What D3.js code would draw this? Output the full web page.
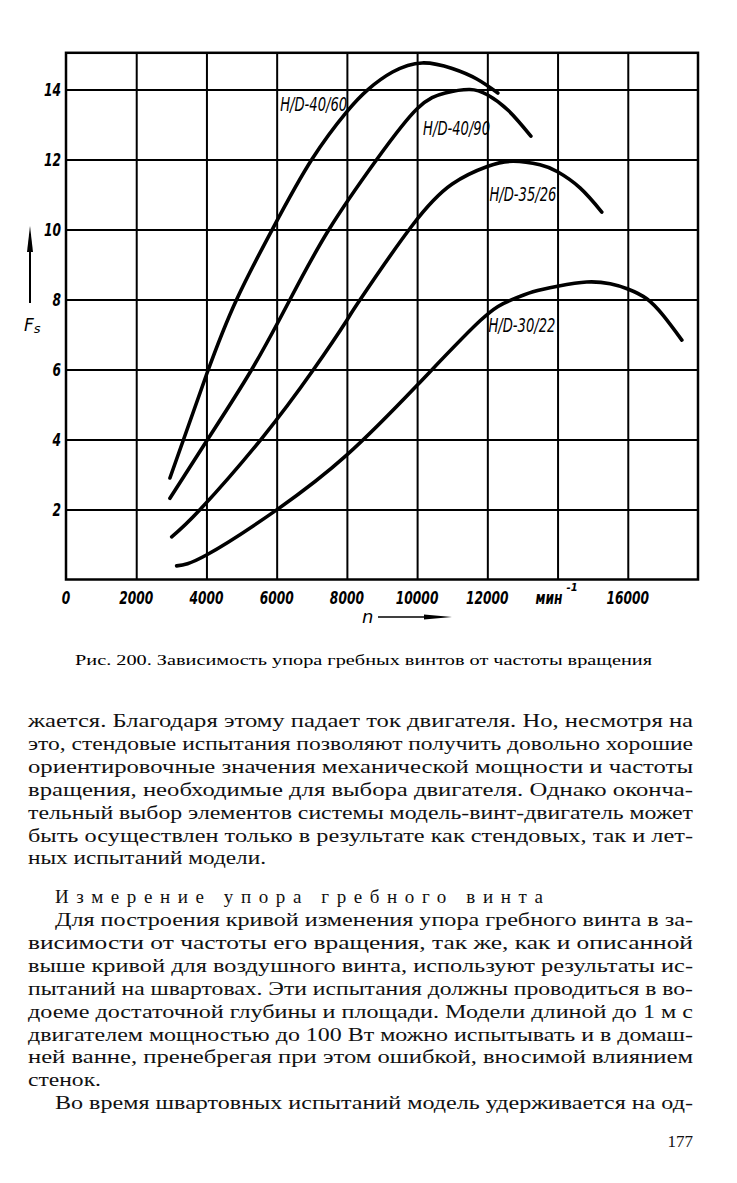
<!DOCTYPE html>
<html><head><meta charset="utf-8">
<script src="https://cdn.jsdelivr.net/npm/d3@7"></script>
<style>
html,body{margin:0;padding:0;background:#fff;}
svg{display:block;}
</style></head>
<body>
<script>
// ---- data ----
const xTickValues = [0,2000,4000,6000,8000,10000,12000,14000,16000];
const xTickLabels = ["0","2000","4000","6000","8000","10000","12000","мин","16000"];
const yTickValues = [2,4,6,8,10,12,14];
const yTickLabels = ["2","4","6","8","10","12","14"];
const seriesNames = ["H/D-40/60","H/D-40/90","H/D-35/26","H/D-30/22"];
const n_40_60 = [2960,4000,4860,5900,7000,8000,8600,9300,10140,11000,11700,12300];
const F_40_60 = [2.9,5.85,8.0,10.05,12.0,13.37,14.0,14.5,14.76,14.6,14.3,13.9];
const n_40_90 = [2960,4000,5290,6380,7490,8850,10000,10800,11500,12000,12600,13240];
const F_40_90 = [2.32,3.95,6.0,8.0,10.0,12.0,13.45,13.9,14.0,13.85,13.4,12.67];
const n_35_26 = [3010,3820,5550,7050,8000,8380,9850,11000,12000,12740,13500,14000,14640,15260];
const F_35_26 = [1.22,2.0,4.0,6.0,7.41,8.0,10.1,11.3,11.8,11.95,11.85,11.65,11.19,10.5];
const n_30_22 = [3150,4000,6000,8000,10000,11800,12640,13300,14000,14830,15500,16000,16540,17020,17540];
const F_30_22 = [0.39,0.7,1.99,3.56,5.55,7.4,7.97,8.22,8.38,8.5,8.45,8.3,8.02,7.53,6.84];
const caption = "Рис. 200. Зависимость упора гребных винтов от частоты вращения";
const para1 = [
 "жается. Благодаря этому падает ток двигателя. Но, несмотря на",
 "это, стендовые испытания позволяют получить довольно хорошие",
 "ориентировочные значения механической  мощности и частоты",
 "вращения, необходимые для выбора двигателя. Однако оконча-",
 "тельный выбор элементов системы модель-винт-двигатель может",
 "быть осуществлен только в результате как стендовых, так и лет-",
 "ных испытаний модели."];
const heading = "Измерение упора гребного винта";
const para2 = [
 "Для построения кривой изменения упора гребного винта в за-",
 "висимости от частоты его вращения, так же, как и описанной",
 "выше кривой для воздушного винта, используют результаты ис-",
 "пытаний на швартовах. Эти испытания должны проводиться в во-",
 "доеме достаточной глубины и площади. Модели длиной до 1 м с",
 "двигателем мощностью до 100 Вт можно испытывать и в домаш-",
 "ней ванне, пренебрегая при этом ошибкой, вносимой влиянием",
 "стенок.",
 "Во время швартовных испытаний модель удерживается на од-"];
const pageNumber = "177";

// ---- layout ----
const W = 737, H = 1183;
const svg = d3.select("body").append("svg").attr("width", W).attr("height", H);
const x = d3.scaleLinear().domain([0,18000]).range([66,698]);
const y = d3.scaleLinear().domain([0,15.05]).range([579.5,52.8]);
const chartFont = "'DejaVu Sans', sans-serif";

// grid via axes
svg.append("g").attr("transform",`translate(0,${y(0)})`)
  .call(d3.axisBottom(x).tickValues(d3.range(2000,18000,2000)).tickSize(-(y(0)-y(15.05))).tickFormat(""))
  .call(g=>g.select(".domain").remove())
  .call(g=>g.selectAll("line").attr("stroke","#000").attr("stroke-width",2));
svg.append("g").attr("transform",`translate(${x(0)},0)`)
  .call(d3.axisLeft(y).tickValues(yTickValues).tickSize(-(x(18000)-x(0))).tickFormat(""))
  .call(g=>g.select(".domain").remove())
  .call(g=>g.selectAll("line").attr("stroke","#000").attr("stroke-width",2));
svg.append("rect").attr("x",x(0)).attr("y",y(15.05)).attr("width",x(18000)-x(0)).attr("height",y(0)-y(15.05))
  .attr("fill","none").attr("stroke","#000").attr("stroke-width",2.5);

// tick labels (scaled horizontally to mimic the narrow drafting font)
const narrow = 0.72;
svg.append("g").selectAll("text").data(xTickValues).join("text")
  .attr("transform",(d,i)=>`translate(${xTickLabels[i]==="мин"?x(d)+5:x(d)},604) scale(${narrow},1)`)
  .attr("text-anchor",(d,i)=>xTickLabels[i]==="мин"?"end":"middle")
  .attr("font-family",chartFont).attr("font-style","italic").attr("font-weight","bold").attr("font-size",17)
  .text((d,i)=>xTickLabels[i]);
svg.append("text").attr("x",x(14000)+9).attr("y",591)
  .attr("font-family",chartFont).attr("font-style","italic").attr("font-weight","bold").attr("font-size",10)
  .text("-1");
svg.append("g").selectAll("text").data(yTickValues).join("text")
  .attr("transform",d=>`translate(61,${y(d)+6.5}) scale(${narrow},1)`)
  .attr("text-anchor","end")
  .attr("font-family",chartFont).attr("font-style","italic").attr("font-weight","bold").attr("font-size",17)
  .text((d,i)=>yTickLabels[i]);

// axis titles
svg.append("line").attr("x1",30).attr("x2",30).attr("y1",234).attr("y2",303).attr("stroke","#000").attr("stroke-width",2);
svg.append("path").attr("d","M30,226 L33,252 L27,252 Z").attr("fill","#000");
svg.append("text").attr("x",24).attr("y",331)
  .attr("font-family",chartFont).attr("font-style","italic").attr("font-size",17).text("F")
  .append("tspan").attr("font-size",13).attr("dy",2).text("s");
svg.append("text").attr("x",362).attr("y",623)
  .attr("font-family",chartFont).attr("font-style","italic").attr("font-size",18).text("n");
svg.append("line").attr("x1",378).attr("x2",440).attr("y1",617).attr("y2",617).attr("stroke","#000").attr("stroke-width",1.5);
svg.append("path").attr("d","M452,617 L424,614.5 L424,619.5 Z").attr("fill","#000");

// curves
const series = [
  {name:seriesNames[0], n:n_40_60, F:F_40_60},
  {name:seriesNames[1], n:n_40_90, F:F_40_90},
  {name:seriesNames[2], n:n_35_26, F:F_35_26},
  {name:seriesNames[3], n:n_30_22, F:F_30_22}];
const line = d3.line().x(d=>x(d[0])).y(d=>y(d[1])).curve(d3.curveNatural);
svg.append("g").selectAll("path").data(series).join("path")
  .attr("d",s=>line(s.n.map((v,i)=>[v,s.F[i]])))
  .attr("fill","none").attr("stroke","#000").attr("stroke-width",3.6).attr("stroke-linecap","round");

// curve labels (anchored at data coordinates)
const labelPos = [[6100,13.4],[10170,12.7],[12060,10.82],[12030,7.08]];
svg.append("g").selectAll("text").data(series).join("text")
  .attr("x",(s,i)=>x(labelPos[i][0])).attr("y",(s,i)=>y(labelPos[i][1]))
  .attr("font-family",chartFont).attr("font-style","italic").attr("font-size",19)
  .attr("textLength",67).attr("lengthAdjust","spacingAndGlyphs")
  .text(s=>s.name);

// caption
svg.append("text").attr("x",75).attr("y",665)
  .attr("font-family","'Liberation Serif', serif").attr("font-size",14)
  .attr("textLength",577).attr("lengthAdjust","spacingAndGlyphs").text(caption);

// body text
const serif = "'Liberation Serif', serif";
function para(lines, startY, opts){
  svg.append("g").selectAll("text").data(lines).join("text")
    .attr("y",(d,i)=>startY+i*22.9)
    .attr("font-family",serif).attr("font-size",19).attr("fill","#111")
    .each(function(d,i){
      const ind = (opts.indentFirst&&i===0)||(opts.indentIdx&&opts.indentIdx.includes(i));
      const left = ind?55:28;
      const t = d3.select(this).attr("x",left);
      if(!opts.ragged.includes(i)){
        t.attr("textLength",693-left).attr("lengthAdjust","spacingAndGlyphs");
      } else if(opts.widths && opts.widths[i]){
        t.attr("textLength",opts.widths[i]).attr("lengthAdjust","spacingAndGlyphs");
      }
    })
    .text(d=>d);
}
para(para1, 727, {ragged:[6], widths:{6:238}});
svg.append("text").attr("x",55).attr("y",903)
  .attr("font-family",serif).attr("font-size",19).attr("fill","#111")
  .attr("textLength",488).attr("lengthAdjust","spacing").text(heading);
para(para2, 926, {indentFirst:true, indentIdx:[8], ragged:[7], widths:{7:73}});
svg.append("text").attr("x",693).attr("y",1147).attr("text-anchor","end")
  .attr("font-family",serif).attr("font-size",17).attr("fill","#111").text(pageNumber);
</script>
</body></html>
